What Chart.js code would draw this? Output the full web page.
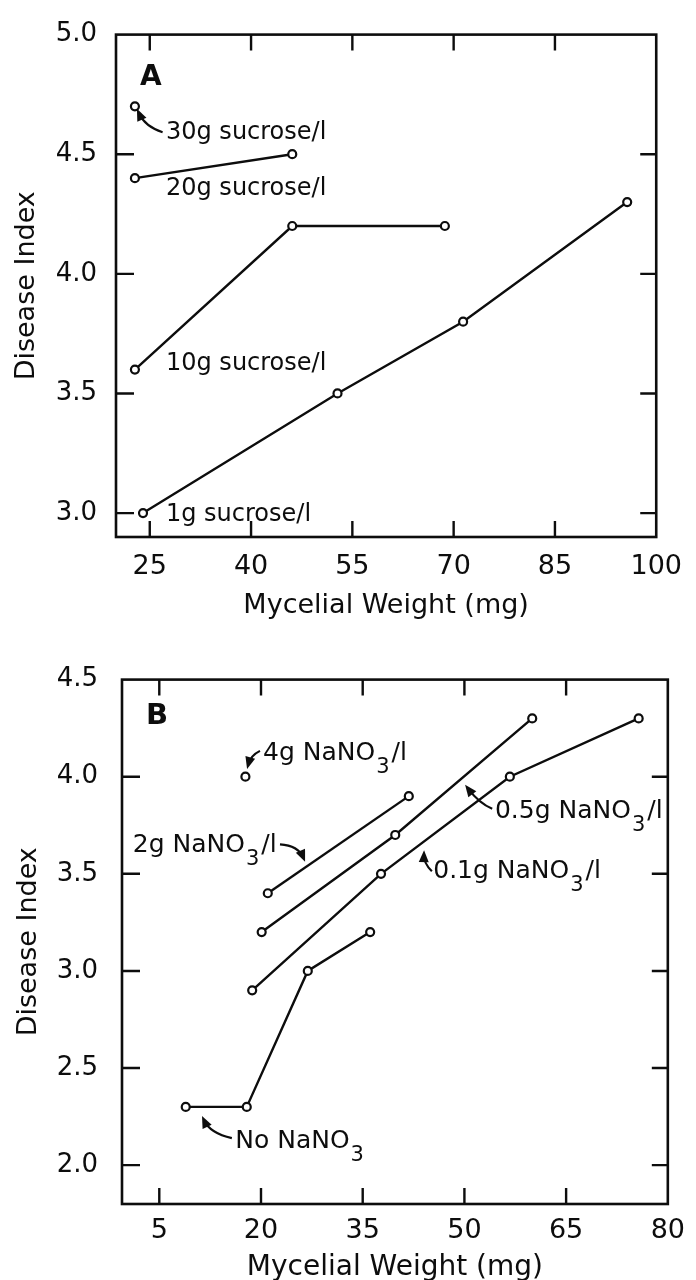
<!DOCTYPE html>
<html>
<head>
<meta charset="utf-8">
<script src="https://cdn.jsdelivr.net/npm/chart.js@4.4.0/dist/chart.umd.min.js"></script>
<style>
  body { margin: 0; background: #fff; overflow: hidden; }
  canvas { display: block; }
</style>
</head>
<body>
<canvas id="chartA" width="696" height="640"></canvas>
<canvas id="chartB" width="696" height="640"></canvas>
<script>
// ===== A : sucrose =====
var xTicksA = [25, 40, 55, 70, 85, 100];
var yTicksA = [3.0, 3.5, 4.0, 4.5, 5.0];
var suc30X = [22.8],                   suc30Y = [4.7];
var suc20X = [22.8, 46.1],             suc20Y = [4.4, 4.5];
var suc10X = [22.8, 46.1, 68.7],       suc10Y = [3.6, 4.2, 4.2];
var suc1X  = [24.0, 52.8, 71.4, 95.7], suc1Y  = [3.0, 3.5, 3.8, 4.3];

// ===== B : NaNO3 =====
var xTicksB = [5, 20, 35, 50, 65, 80];
var yTicksB = [2.0, 2.5, 3.0, 3.5, 4.0, 4.5];
var nit4X  = [17.7],                   nit4Y  = [4.0];
var nit2X  = [21.0, 41.8],             nit2Y  = [3.4, 3.9];
var nit05X = [20.1, 39.8, 60.0],       nit05Y = [3.2, 3.7, 4.3];
var nit01X = [18.7, 37.7, 56.7, 75.7], nit01Y = [2.9, 3.5, 4.0, 4.3];
var nitNoX = [8.9, 17.9, 26.9, 36.1],  nitNoY = [2.3, 2.3, 3.0, 3.2];

var INK = '#0d0d0d';
Chart.defaults.font.family = "'DejaVu Sans', sans-serif";
Chart.defaults.color = INK;

// labels and arrows, in data units
var notes = {
    chartA: {
        labels: [
            {t: 'A', x: 25.15, y: 4.79, size: 28, bold: true},
            {t: '30g sucrose/l', x: 27.4, y: 4.563, size: 24},
            {t: '20g sucrose/l', x: 27.4, y: 4.331, size: 24},
            {t: '10g sucrose/l', x: 27.4, y: 3.596, size: 24},
            {t: '1g sucrose/l',  x: 27.4, y: 2.967, size: 24}
        ],
        arrows: [
            {x0: 26.9, y0: 4.592, cx: 24.3, cy: 4.615, x1: 23.1, y1: 4.69}
        ]
    },
    chartB: {
        labels: [
            {t: 'B', x: 4.66, y: 4.27, size: 29, bold: true},
            {t: '4g NaNO', sub: '3', after: '/l', x: 20.3, y: 4.088, size: 25},
            {t: '2g NaNO', sub: '3', after: '/l', x: 1.1, y: 3.612, size: 25},
            {t: '0.5g NaNO', sub: '3', after: '/l', x: 54.5, y: 3.786, size: 25},
            {t: '0.1g NaNO', sub: '3', after: '/l', x: 45.4, y: 3.478, size: 25},
            {t: 'No NaNO', sub: '3', after: '', x: 16.2, y: 2.089, size: 25}
        ],
        arrows: [
            {x0: 19.85, y0: 4.133, cx: 18.5, cy: 4.11, x1: 17.95, y1: 4.04},
            {x0: 22.8, y0: 3.652, cx: 25.5, cy: 3.645, x1: 26.5, y1: 3.562},
            {x0: 54.1, y0: 3.835, cx: 52.2, cy: 3.862, x1: 50.1, y1: 3.959},
            {x0: 45.2, y0: 3.513, cx: 44.0, cy: 3.555, x1: 44.05, y1: 3.622},
            {x0: 15.7, y0: 2.139, cx: 12.5, cy: 2.164, x1: 11.3, y1: 2.253}
        ]
    }
};

function pts(xs, ys) {
    return xs.map(function(x, i){ return {x: x, y: ys[i]}; });
}
function series(xs, ys) {
    return {
        data: pts(xs, ys), showLine: true,
        borderColor: INK, borderWidth: 2.4,
        pointRadius: 4, pointHoverRadius: 4, pointBorderWidth: 2.2,
        pointBackgroundColor: '#fff', pointBorderColor: INK
    };
}

function drawArrow(ctx, sx, sy, a) {
    var x0 = sx.getPixelForValue(a.x0), y0 = sy.getPixelForValue(a.y0);
    var cx = sx.getPixelForValue(a.cx), cy = sy.getPixelForValue(a.cy);
    var x1 = sx.getPixelForValue(a.x1), y1 = sy.getPixelForValue(a.y1);
    var ang = Math.atan2(y1 - cy, x1 - cx);
    ctx.beginPath();
    ctx.moveTo(x0, y0);
    ctx.quadraticCurveTo(cx, cy, x1 - Math.cos(ang) * 5, y1 - Math.sin(ang) * 5);
    ctx.stroke();
    ctx.beginPath();
    ctx.moveTo(x1, y1);
    ctx.lineTo(x1 - Math.cos(ang) * 12 + Math.sin(ang) * 5, y1 - Math.sin(ang) * 12 - Math.cos(ang) * 5);
    ctx.lineTo(x1 - Math.cos(ang) * 12 - Math.sin(ang) * 5, y1 - Math.sin(ang) * 12 + Math.cos(ang) * 5);
    ctx.closePath();
    ctx.fill();
}

// box, inward ticks, labels
var framePlugin = {
    id: 'frame',
    afterDatasetsDraw: function(chart){
        var ctx = chart.ctx, a = chart.chartArea;
        var sx = chart.scales.x, sy = chart.scales.y;
        ctx.save();
        ctx.strokeStyle = INK;
        ctx.fillStyle = INK;
        ctx.lineWidth = 2.6;
        ctx.strokeRect(a.left, a.top, a.right - a.left, a.bottom - a.top);
        ctx.lineWidth = 2.4;
        ctx.beginPath();
        sx.ticks.forEach(function(t){
            var p = sx.getPixelForValue(t.value);
            if (p >= a.right - 1) return;
            ctx.moveTo(p, a.bottom); ctx.lineTo(p, a.bottom - 16);
            ctx.moveTo(p, a.top);    ctx.lineTo(p, a.top + 16);
        });
        sy.ticks.forEach(function(t){
            var p = sy.getPixelForValue(t.value);
            if (p <= a.top + 1) return;
            ctx.moveTo(a.left, p);  ctx.lineTo(a.left + 18, p);
            ctx.moveTo(a.right, p); ctx.lineTo(a.right - 16, p);
        });
        ctx.stroke();

        var n = notes[chart.canvas.id];
        ctx.textBaseline = 'alphabetic';
        ctx.textAlign = 'left';
        n.labels.forEach(function(l){
            var px = sx.getPixelForValue(l.x), py = sy.getPixelForValue(l.y);
            ctx.font = (l.bold ? 'bold ' : '') + l.size + "px 'DejaVu Sans'";
            if (l.t.length == 1) ctx.textAlign = 'center';
            ctx.fillText(l.t, px, py);
            ctx.textAlign = 'left';
            if (l.sub) {
                var w = ctx.measureText(l.t).width;
                ctx.font = Math.round(l.size * 0.85) + "px 'DejaVu Sans'";
                ctx.fillText(l.sub, px + w + 1, py + 13);
                var w2 = ctx.measureText(l.sub).width;
                ctx.font = l.size + "px 'DejaVu Sans'";
                ctx.fillText(l.after, px + w + w2 + 3, py);
            }
        });
        ctx.lineWidth = 2.2;
        n.arrows.forEach(function(ar){ drawArrow(ctx, sx, sy, ar); });
        ctx.restore();
    }
};

function makeChart(id, sets, cfg) {
    return new Chart(document.getElementById(id), {
        type: 'scatter',
        data: { datasets: sets },
        options: {
            responsive: false,
            animation: false,
            events: [],
            devicePixelRatio: 1,
            layout: { padding: { left: 0, right: cfg.padRight, top: cfg.padTop, bottom: 0 } },
            plugins: { legend: { display: false }, tooltip: { enabled: false } },
            scales: {
                x: {
                    type: 'linear', min: cfg.xMin, max: cfg.xMax,
                    afterBuildTicks: function(s){ s.ticks = cfg.xTicks.map(function(v){ return {value: v}; }); },
                    afterFit: function(s){ s.height = cfg.xHeight; },
                    grid: { display: false, drawTicks: false },
                    border: { display: false },
                    ticks: { autoSkip: false, maxRotation: 0, padding: cfg.xTickPad, font: { size: 27 }, color: INK },
                    title: { display: true, text: 'Mycelial Weight (mg)', color: INK,
                             font: { size: cfg.xTitleSize }, padding: { top: 0, bottom: cfg.xTitlePad } }
                },
                y: {
                    type: 'linear', min: cfg.yMin, max: cfg.yMax,
                    afterBuildTicks: function(s){ s.ticks = cfg.yTicks.map(function(v){ return {value: v}; }); },
                    afterFit: function(s){ s.width = cfg.yWidth; },
                    grid: { display: false, drawTicks: false },
                    border: { display: false },
                    ticks: { autoSkip: false, padding: cfg.yTickPad, font: { size: 26 }, color: INK,
                             callback: function(v){ return v.toFixed(1); } },
                    title: { display: true, text: 'Disease Index', color: INK,
                             font: { size: 27 }, padding: { top: cfg.yTitlePad, bottom: 0 } }
                }
            }
        },
        plugins: [framePlugin]
    });
}

makeChart('chartA',
    [series(suc30X, suc30Y), series(suc20X, suc20Y), series(suc10X, suc10Y), series(suc1X, suc1Y)],
    { xMin: 20, xMax: 100, yMin: 2.9, yMax: 5.0, xTicks: xTicksA, yTicks: yTicksA,
      padRight: 37, padTop: 23, xHeight: 103, yWidth: 116,
      xTickPad: 14, yTickPad: 19, xTitleSize: 27, xTitlePad: 18, yTitlePad: 11 });

makeChart('chartB',
    [series(nit4X, nit4Y), series(nit2X, nit2Y), series(nit05X, nit05Y), series(nit01X, nit01Y), series(nitNoX, nitNoY)],
    { xMin: -0.5, xMax: 80, yMin: 1.8, yMax: 4.5, xTicks: xTicksB, yTicks: yTicksB,
      padRight: 28, padTop: 19, xHeight: 76, yWidth: 122,
      xTickPad: 11, yTickPad: 24, xTitleSize: 28, xTitlePad: -5, yTitlePad: 13 });
</script>
</body>
</html>
